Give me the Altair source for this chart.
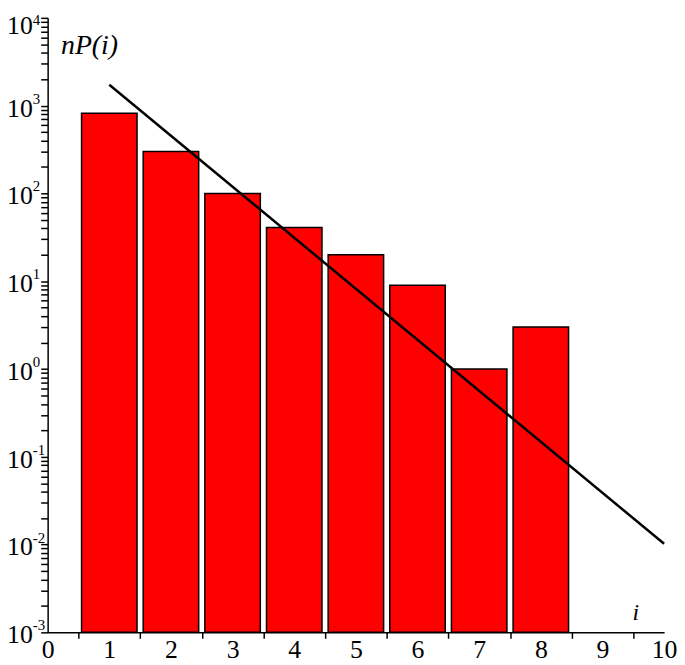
import altair as alt
import pandas as pd

# ---- data ----
i_vals = [1, 2, 3, 4, 5, 6, 7, 8]
counts = [820, 300, 100, 41, 20, 9, 1, 3]
fit_i = [1, 10]
fit_y = [1730, 0.0102]

x_tick_values = [k + 0.5 for k in range(10)]
x_label_values = list(range(0, 11))
y_decades = [1e-3, 1e-2, 1e-1, 1e0, 1e1, 1e2, 1e3, 1e4]
y_exponents = ["-3", "-2", "-1", "0", "1", "2", "3", "4"]
y_mantissas = [2, 3, 4, 5, 6, 7, 8, 9]

FONT = "Liberation Serif"
W, H = 622, 620
BAR_HALF = 0.45
BASE = 1e-3
TOP = 1e4

bars_df = pd.DataFrame({"i": i_vals, "n": counts})
bars_df["lo"] = bars_df["i"] - BAR_HALF
bars_df["hi"] = bars_df["i"] + BAR_HALF
bars_df["base"] = BASE
fit_df = pd.DataFrame({"lo": fit_i, "n": fit_y})
lab_df = pd.DataFrame({"n": y_decades, "base_txt": ["10"] * len(y_decades), "exp_txt": y_exponents})

y_values = []
for d in y_decades[:-1]:
    y_values.append(d)
    for m in y_mantissas:
        y_values.append(round(m * d, 6))
y_values.append(y_decades[-1])

x_axis = alt.Axis(
    values=sorted(x_tick_values + x_label_values),
    labelExpr="datum.value % 1 == 0 ? format(datum.value, 'd') : ''",
    tickOpacity={"condition": {"test": "datum.value % 1 == 0", "value": 0}, "value": 1},
    tickSize=6, labelFlush=False, labelOverlap=False,
    labelPadding=19, labelBaseline="alphabetic", labelFontSize=26,
    title="i", titleFontSize=24, titleFontStyle="italic",
    titleX=593, titleY=-13, titleAlign="center", titleBaseline="alphabetic",
)
y_axis = alt.Axis(
    values=y_values, labels=False, tickSize=7,
    title="nP(i)", titleFontSize=28, titleFontStyle="italic", titleAngle=0,
    titleX=13, titleY=36, titleAlign="left", titleBaseline="alphabetic",
)

x_scale = alt.Scale(domain=[0, 10], nice=False, zero=False)
y_scale = alt.Scale(type="log", domain=[BASE, TOP], nice=False)

X = alt.X("lo:Q", scale=x_scale, axis=x_axis)
Y = alt.Y("n:Q", scale=y_scale, axis=y_axis)

bars = alt.Chart(bars_df).mark_rect(fill="#ff0000", stroke="black", strokeWidth=1.5).encode(
    x=X, x2="hi:Q", y=Y, y2="base:Q",
)
fit = alt.Chart(fit_df).mark_line(color="black", strokeWidth=2.5).encode(x=X, y=Y)

def label_layer(field, size, align, dy, test):
    return alt.Chart(lab_df).transform_filter(test).mark_text(
        font=FONT, fontSize=size, align=align, baseline="alphabetic", dy=dy, color="black"
    ).encode(x=alt.value(-15), y=Y, text=f"{field}:N")

base_lab = label_layer("base_txt", 26, "right", 11, f"datum.n < {TOP}")
exp_lab = label_layer("exp_txt", 15, "left", -2, f"datum.n < {TOP}")
base_lab_top = label_layer("base_txt", 26, "right", 16, f"datum.n >= {TOP}")
exp_lab_top = label_layer("exp_txt", 15, "left", 7, f"datum.n >= {TOP}")

chart = alt.layer(bars, fit, base_lab, exp_lab, base_lab_top, exp_lab_top).properties(
    width=W, height=H,
    autosize=alt.AutoSizeParams(type="none"),
    padding={"left": 40, "top": 7, "right": 13, "bottom": 30},
    background="white",
).configure(font=FONT).configure_axis(
    labelFont=FONT, titleFont=FONT, labelColor="black", titleColor="black",
    titleFontWeight="normal", tickColor="black", tickWidth=1.5,
    domainColor="black", domainWidth=1.5, grid=False,
).configure_view(stroke=None)

chart.save("out.html", embed_options={"renderer": "svg", "actions": False})
